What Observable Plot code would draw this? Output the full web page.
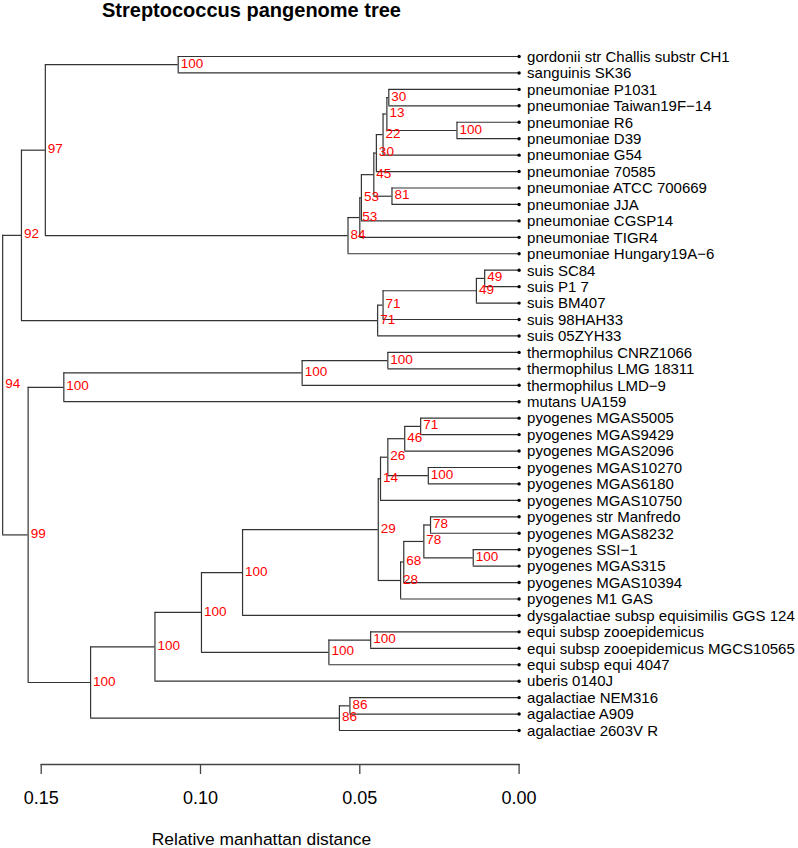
<!DOCTYPE html>
<html>
<head>
<meta charset="utf-8">
<script src="https://cdn.jsdelivr.net/npm/d3@7"></script>
<script src="https://cdn.jsdelivr.net/npm/@observablehq/plot@0.6"></script>
<style>
  html, body { margin: 0; padding: 0; background: #fff; }
</style>
</head>
<body>
<div id="chart"></div>
<script>
// ---- Data ----
const titleText = "Streptococcus pangenome tree";
const axisTitle = "Relative manhattan distance";
const xTicks = [0.15, 0.10, 0.05, 0.00];

const leafNames = [
  "gordonii str Challis substr CH1",
  "sanguinis SK36",
  "pneumoniae P1031",
  "pneumoniae Taiwan19F\u221214",
  "pneumoniae R6",
  "pneumoniae D39",
  "pneumoniae G54",
  "pneumoniae 70585",
  "pneumoniae ATCC 700669",
  "pneumoniae JJA",
  "pneumoniae CGSP14",
  "pneumoniae TIGR4",
  "pneumoniae Hungary19A\u22126",
  "suis SC84",
  "suis P1 7",
  "suis BM407",
  "suis 98HAH33",
  "suis 05ZYH33",
  "thermophilus CNRZ1066",
  "thermophilus LMG 18311",
  "thermophilus LMD\u22129",
  "mutans UA159",
  "pyogenes MGAS5005",
  "pyogenes MGAS9429",
  "pyogenes MGAS2096",
  "pyogenes MGAS10270",
  "pyogenes MGAS6180",
  "pyogenes MGAS10750",
  "pyogenes str Manfredo",
  "pyogenes MGAS8232",
  "pyogenes SSI\u22121",
  "pyogenes MGAS315",
  "pyogenes MGAS10394",
  "pyogenes M1 GAS",
  "dysgalactiae subsp equisimilis GGS 124",
  "equi subsp zooepidemicus",
  "equi subsp zooepidemicus MGCS10565",
  "equi subsp equi 4047",
  "uberis 0140J",
  "agalactiae NEM316",
  "agalactiae A909",
  "agalactiae 2603V R"
];

// internal nodes: id, children (top to bottom), height (distance), bootstrap support
const nodeIds = [
  "gs","pTw","R6D39","n13","n22","n30","n81","n45","n53a","n53b","n84","n97",
  "n49a","n49b","n71a","n71b","n92",
  "th1","th2","thm",
  "p71","p46","p100","p26","p14","p78a","p100s","p78b","p68","p28","p29",
  "pd","eq1","eq2","pde","pu","a86a","a86b","pa","n99","root"
];
const nodeKids = [
  ["gordonii str Challis substr CH1","sanguinis SK36"],
  ["pneumoniae P1031","pneumoniae Taiwan19F\u221214"],
  ["pneumoniae R6","pneumoniae D39"],
  ["pTw","R6D39"],
  ["n13","pneumoniae G54"],
  ["n22","pneumoniae 70585"],
  ["pneumoniae ATCC 700669","pneumoniae JJA"],
  ["n30","n81"],
  ["n45","pneumoniae CGSP14"],
  ["n53a","pneumoniae TIGR4"],
  ["n53b","pneumoniae Hungary19A\u22126"],
  ["gs","n84"],
  ["suis SC84","suis P1 7"],
  ["n49a","suis BM407"],
  ["n49b","suis 98HAH33"],
  ["n71a","suis 05ZYH33"],
  ["n97","n71b"],
  ["thermophilus CNRZ1066","thermophilus LMG 18311"],
  ["th1","thermophilus LMD\u22129"],
  ["th2","mutans UA159"],
  ["pyogenes MGAS5005","pyogenes MGAS9429"],
  ["p71","pyogenes MGAS2096"],
  ["pyogenes MGAS10270","pyogenes MGAS6180"],
  ["p46","p100"],
  ["p26","pyogenes MGAS10750"],
  ["pyogenes str Manfredo","pyogenes MGAS8232"],
  ["pyogenes SSI\u22121","pyogenes MGAS315"],
  ["p78a","p100s"],
  ["p78b","pyogenes MGAS10394"],
  ["p68","pyogenes M1 GAS"],
  ["p14","p28"],
  ["p29","dysgalactiae subsp equisimilis GGS 124"],
  ["equi subsp zooepidemicus","equi subsp zooepidemicus MGCS10565"],
  ["eq1","equi subsp equi 4047"],
  ["pd","eq2"],
  ["pde","uberis 0140J"],
  ["agalactiae NEM316","agalactiae A909"],
  ["a86a","agalactiae 2603V R"],
  ["pu","a86b"],
  ["thm","pa"],
  ["n92","n99"]
];
const nodeHeight = [
  0.1070, 0.0409, 0.0195, 0.0415, 0.0427, 0.0448, 0.0399, 0.0456, 0.0495, 0.0500, 0.0537, 0.1487,
  0.0108, 0.0134, 0.0427, 0.0444, 0.1562,
  0.0412, 0.0681, 0.1429,
  0.0309, 0.0359, 0.0285, 0.0412, 0.0435, 0.0278, 0.0144, 0.0299, 0.0362, 0.0372, 0.0442,
  0.0868, 0.0466, 0.0597, 0.0997, 0.1143, 0.0531, 0.0564, 0.1345, 0.1541, 0.1621
];
const nodeSupport = [
  100, 30, 100, 13, 22, 30, 81, 45, 53, 53, 84, 97,
  49, 49, 71, 71, 92,
  100, 100, 100,
  71, 46, 100, 26, 14, 78, 100, 78, 68, 28, 29,
  100, 100, 100, 100, 100, 86, 86, 100, 99, 94
];

// ---- Layout derived from the tree (row = leaf order, node y = middle of children) ----
const kids = new Map(nodeIds.map((id, i) => [id, nodeKids[i]]));
const height = new Map(nodeIds.map((id, i) => [id, nodeHeight[i]]));
leafNames.forEach(n => height.set(n, 0));
const row = new Map(leafNames.map((n, i) => [n, i]));
const yOf = new Map();
function place(id) {
  if (!kids.has(id)) { yOf.set(id, row.get(id)); return row.get(id); }
  const ys = kids.get(id).map(place);
  const y = (Math.min(...ys) + Math.max(...ys)) / 2;
  yOf.set(id, y);
  return y;
}
place("root");

const hSegs = [], vSegs = [], support = [];
nodeIds.forEach((id, i) => {
  const h = height.get(id);
  const cy = kids.get(id).map(c => yOf.get(c));
  vSegs.push({x: h, y1: Math.min(...cy), y2: Math.max(...cy)});
  kids.get(id).forEach(c => hSegs.push({x1: h, x2: height.get(c), y: yOf.get(c)}));
  support.push({x: h, y: yOf.get(id), label: String(nodeSupport[i])});
});
const leaves = leafNames.map(n => ({name: n, x: 0, y: row.get(n)}));

const font = "'Liberation Sans', Arial, Helvetica, sans-serif";
const lineColor = "#333";

const chart = Plot.plot({
  width: 798,
  height: 848,
  marginTop: 0,
  marginLeft: 40.7,
  marginRight: 279.4,
  marginBottom: 84,
  style: {fontFamily: font, background: "#fff", color: "#000"},
  x: {domain: [0.15, 0], axis: null},
  y: {domain: [0, leafNames.length - 1], range: [56, 730], axis: null},
  marks: [
    Plot.ruleY(hSegs, {y: "y", x1: "x1", x2: "x2", stroke: lineColor, strokeWidth: 1.2}),
    Plot.ruleX(vSegs, {x: "x", y1: "y1", y2: "y2", stroke: lineColor, strokeWidth: 1.2}),
    Plot.dot(leaves, {x: "x", y: "y", r: 1.7, fill: "#000", stroke: null}),
    Plot.text(leaves, {x: "x", y: "y", text: "name", dx: 8, dy: 0.5, textAnchor: "start", lineAnchor: "middle", fontSize: 15, fill: "#000"}),
    Plot.text(support, {x: "x", y: "y", text: "label", dx: 2.5, dy: -1.3, textAnchor: "start", lineAnchor: "middle", fontSize: 13.5, fill: "#ff0000"}),
    Plot.frame({anchor: "bottom", stroke: "#444", strokeWidth: 1.4}),
    Plot.axisX({
      anchor: "bottom",
      ticks: xTicks,
      tickFormat: d3.format(".2f"),
      tickSize: 10,
      tickPadding: 17,
      fontSize: 18,
      stroke: "#444",
      strokeWidth: 1.3,
      fill: "#000",
      label: null
    }),
    Plot.text([axisTitle], {frameAnchor: "bottom-left", dx: 261 - 40.7, dy: 75, textAnchor: "middle", lineAnchor: "middle", fontSize: 17.4, fill: "#000"}),
    Plot.text([titleText], {frameAnchor: "top-left", dx: 101.5 - 40.7, dy: 9.6, textAnchor: "start", lineAnchor: "middle", fontSize: 20, fontWeight: "bold", fill: "#000"})
  ]
});
document.getElementById("chart").appendChild(chart);
</script>
</body>
</html>
